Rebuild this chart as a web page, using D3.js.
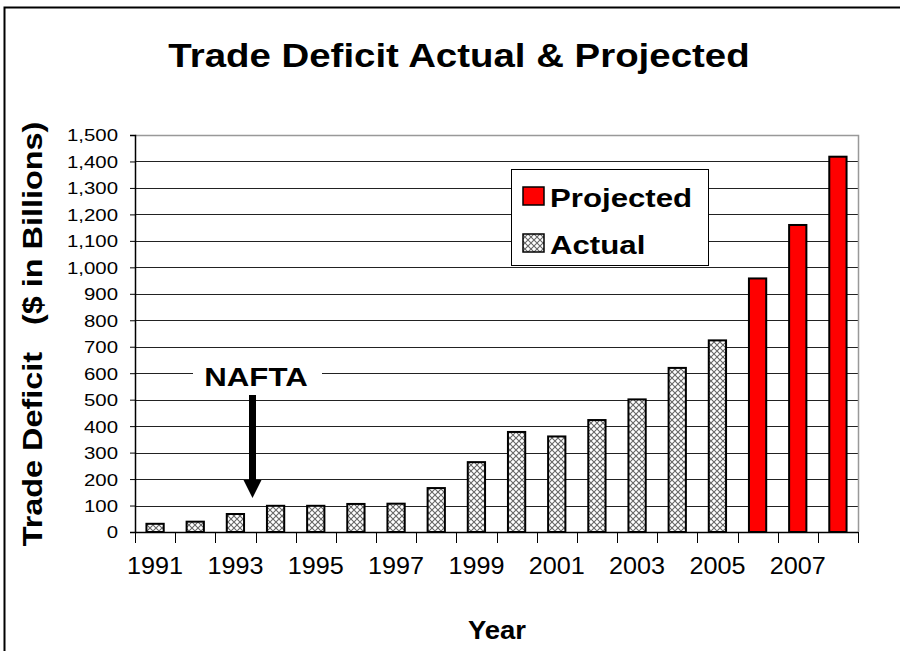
<!DOCTYPE html>
<html><head><meta charset="utf-8">
<script src="https://cdn.jsdelivr.net/npm/d3@7"></script>
<style>body{margin:0;background:#fff}svg{display:block}text{font-family:"Liberation Sans",Arial,sans-serif}</style>
</head><body><svg id="c" width="900" height="651"></svg>
<script>
const years = [1991,1992,1993,1994,1995,1996,1997,1998,1999,2000,2001,2002,2003,2004,2005,2006,2007,2008];
const actual = [31,39,68,99,99,106,107,166,264,378,361,423,501,620,724,null,null,null];
const projected = [null,null,null,null,null,null,null,null,null,null,null,null,null,null,null,958,1160,1418];
const yTicks = [0,100,200,300,400,500,600,700,800,900,1000,1100,1200,1300,1400,1500];
const xLabelYears = [1991,1993,1995,1997,1999,2001,2003,2005,2007];
const seriesNames = ["Projected","Actual"];

const SX = 1.2;
const svg = d3.select("#c");
const defs = svg.append("defs");
const pat = defs.append("pattern").attr("id","hatch").attr("patternUnits","userSpaceOnUse")
  .attr("width",6).attr("height",6);
pat.append("rect").attr("width",6).attr("height",6).attr("fill","#fff");
pat.append("path").attr("d","M0,0L6,6M6,0L0,6").attr("stroke","#666").attr("stroke-width",1.1);

svg.append("rect").attr("x",4.5).attr("y",7.5).attr("width",930).attr("height",700)
  .attr("fill","#fff").attr("stroke","#000").attr("stroke-width",2);

const L=135, R=858, T=135, B=532;
const x = d3.scaleBand().domain(years).range([L,R]).padding(0);
const y = d3.scaleLinear().domain([0,1500]).range([B,T]);
const barW = x.bandwidth()*0.43;

// gridlines
svg.append("g").selectAll("line").data(yTicks.filter(v=>v>0 && v<1500)).join("line")
  .attr("x1",L).attr("x2",R).attr("y1",d=>Math.round(y(d))+0.5).attr("y2",d=>Math.round(y(d))+0.5)
  .attr("stroke","#222").attr("stroke-width",1);
svg.append("path").attr("d",`M${L},${T+0.5}H${R+0.5}V${B}`).attr("fill","none").attr("stroke","#999").attr("stroke-width",1.5);

// bars
const data = years.map((yr,i)=>({yr, a:actual[i], p:projected[i]}));
svg.append("g").selectAll("rect").data(data.filter(d=>d.a!=null)).join("rect")
  .attr("x",d=>x(d.yr)+(x.bandwidth()-barW)/2).attr("width",barW)
  .attr("y",d=>y(d.a)).attr("height",d=>B-y(d.a))
  .attr("fill","url(#hatch)").attr("stroke","#000").attr("stroke-width",2);
svg.append("g").selectAll("rect").data(data.filter(d=>d.p!=null)).join("rect")
  .attr("x",d=>x(d.yr)+(x.bandwidth()-barW)/2).attr("width",barW)
  .attr("y",d=>y(d.p)).attr("height",d=>B-y(d.p))
  .attr("fill","#ff0000").attr("stroke","#000").attr("stroke-width",2);

// y axis
const ya = svg.append("g").attr("transform",`translate(${L},0)`)
  .call(d3.axisLeft(y).tickValues(yTicks).tickFormat(d3.format(",")).tickSize(5));
ya.select(".domain").attr("stroke","#000").attr("stroke-width",1.5);
ya.selectAll(".tick line").attr("stroke","#000");
ya.selectAll(".tick text").attr("x",0).attr("dy","0.35em").attr("text-anchor","end")
  .attr("transform",`translate(-17,0) scale(${SX},1)`).attr("font-size",17).attr("fill","#000")
  .style("font-family","'Liberation Sans',Arial,sans-serif");

// x axis
svg.append("line").attr("x1",L).attr("x2",R).attr("y1",B+0.5).attr("y2",B+0.5).attr("stroke","#000").attr("stroke-width",1.5);
const bounds = years.map(v=>x(v)).concat([R]);
svg.append("g").selectAll("line").data(bounds).join("line")
  .attr("x1",d=>Math.round(d)+0.5).attr("x2",d=>Math.round(d)+0.5).attr("y1",B).attr("y2",B+11)
  .attr("stroke","#000").attr("stroke-width",1);
svg.append("g").selectAll("text").data(xLabelYears).join("text")
  .attr("transform",d=>`translate(${x(d)+x.bandwidth()/2},574) scale(1.05,1)`)
  .attr("text-anchor","middle").attr("font-size",24).attr("fill","#000").text(d=>d);

// titles
svg.append("text").attr("transform",`translate(459,67) scale(1.13,1)`).attr("text-anchor","middle")
  .attr("font-size",34).attr("font-weight","bold").text("Trade Deficit Actual & Projected");
svg.append("text").attr("transform",`translate(497,639) scale(1.1,1)`).attr("text-anchor","middle")
  .attr("font-size",25).attr("font-weight","bold").text("Year");
svg.append("text").attr("transform",`translate(42,334) rotate(-90) scale(${SX},1)`).attr("text-anchor","middle")
  .attr("font-size",27).attr("font-weight","bold").attr("xml:space","preserve").style("white-space","pre")
  .text("Trade Deficit   ($ in Billions)");

// legend
const lg = svg.append("g");
lg.append("rect").attr("x",511.5).attr("y",169.5).attr("width",197).attr("height",96)
  .attr("fill","#fff").attr("stroke","#000").attr("stroke-width",1);
const lgFill = {"Projected":"#ff0000","Actual":"url(#hatch)"};
seriesNames.forEach((n,i)=>{
  const yy = 187 + i*47;
  lg.append("rect").attr("x",523).attr("y",yy).attr("width",21).attr("height",18)
    .attr("fill",lgFill[n]).attr("stroke","#000").attr("stroke-width",1.5);
  lg.append("text").attr("transform",`translate(550,${yy+20}) scale(${SX},1)`)
    .attr("font-size",26).attr("font-weight","bold").text(n);
});

// NAFTA annotation
svg.append("rect").attr("x",193).attr("y",360).attr("width",129).attr("height",32).attr("fill","#fff");
svg.append("text").attr("transform",`translate(256,386) scale(${SX},1)`).attr("text-anchor","middle")
  .attr("font-size",26).attr("font-weight","bold").text("NAFTA");
const ax = x(1994) - 3;
svg.append("rect").attr("x",ax-3.5).attr("y",395).attr("width",7).attr("height",86).attr("fill","#000");
svg.append("path").attr("d",`M${ax-9},480L${ax+9},480L${ax},498Z`).attr("fill","#000");
</script></body></html>
